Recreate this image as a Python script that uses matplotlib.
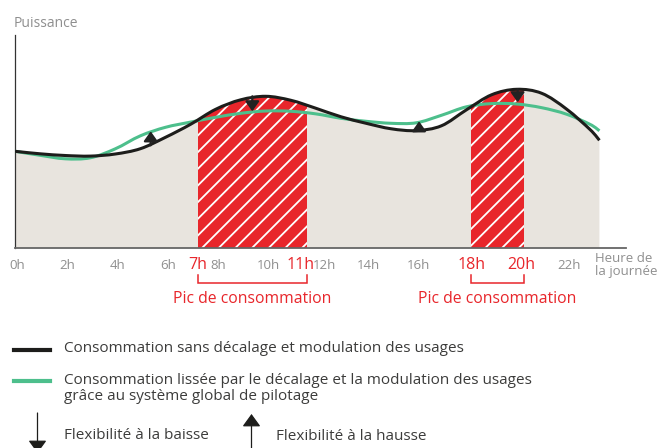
import numpy as np
import matplotlib
matplotlib.use("Agg")
import matplotlib.pyplot as plt
from matplotlib.path import Path
from matplotlib.patches import PathPatch, Rectangle

plt.rcParams['font.family'] = ['Open Sans', 'DejaVu Sans']
plt.rcParams['hatch.linewidth'] = 1.3

# --- data (hour of the day / power, arbitrary units) ---
hours = [0, 1, 2, 3, 4, 5, 6, 7, 8, 9, 10, 11, 12, 13, 14, 15, 16, 17, 18, 19, 20, 21, 22, 23, 23.3]
power_black = [97, 94.5, 92.8, 92.2, 94.3, 99.6, 111, 124, 139, 148.5, 152, 148, 140, 131.5,
               125, 119.5, 117.7, 122.5, 138.5, 153.5, 159, 155, 139, 117, 108]
power_green = [97, 93, 89.5, 90.5, 99.5, 112.5, 121, 126.2, 131, 135, 137.3, 137, 134.4, 130,
               127, 125, 125.5, 133, 141.5, 144.7, 144.3, 140.6, 134, 123, 117.5]

# peak windows (drawn edges) and their labels
peak_start = [7.28, 18.19]
peak_end = [11.63, 20.28]
peak_labels = [('7h', '11h'), ('18h', '20h')]

hour_ticks = [0, 2, 4, 6, 8, 10, 12, 14, 16, 22]
hour_labels = ['0h', '2h', '4h', '6h', '8h', '10h', '12h', '14h', '16h', '22h']

# flexibility arrows: hour, from, to
flex_hours = [5.41, 9.46, 16.11, 20.04]
flex_from = [103, 152, 118, 159]
flex_to = [117, 137, 127, 146]

BLACK = '#1d1d1b'
GREEN = '#4dbf8c'
RED = '#e8262b'
BEIGE = '#e8e4de'
GRAY = '#8f8f8f'
TEXT = '#3c3c3b'


def smooth_verts(x, y):
    """Cubic Hermite curve y(x) through the points, as bezier segments."""
    x = np.asarray(x, float)
    y = np.asarray(y, float)
    n = len(x)
    d = np.empty(n)
    d[1:-1] = (y[2:] - y[:-2]) / (x[2:] - x[:-2])
    d[0] = (y[1] - y[0]) / (x[1] - x[0])
    d[-1] = (y[-1] - y[-2]) / (x[-1] - x[-2])
    verts = [(x[0], y[0])]
    codes = [Path.MOVETO]
    for i in range(n - 1):
        dx = (x[i + 1] - x[i]) / 3
        verts += [(x[i] + dx, y[i] + d[i] * dx),
                  (x[i + 1] - dx, y[i + 1] - d[i + 1] * dx),
                  (x[i + 1], y[i + 1])]
        codes += [Path.CURVE4] * 3
    return verts, codes


fig = plt.figure(figsize=(6.57, 4.48), dpi=100)

# overlay in pixel coordinates for legend
lay = fig.add_axes([0, 0, 1, 1])
lay.set_xlim(0, 657)
lay.set_ylim(448, 0)
lay.axis('off')

ax = fig.add_axes([15 / 657, (448 - 248.3) / 448, (626 - 15) / 657, (248.3 - 35) / 448])
ax.set_xlim(0, 24.36)
ax.set_ylim(0, 213.3)
ax.patch.set_alpha(0)

# area under the black curve
verts, codes = smooth_verts(hours, power_black)
verts += [(hours[-1], 0), (hours[0], 0), (hours[0], 0)]
codes += [Path.LINETO, Path.LINETO, Path.CLOSEPOLY]
area = PathPatch(Path(verts, codes), facecolor=BEIGE, edgecolor='none', zorder=1)
ax.add_patch(area)

for s, e in zip(peak_start, peak_end):
    r = Rectangle((s, 0), e - s, 210, facecolor=RED, edgecolor='white',
                  hatch='//', lw=0, zorder=2)
    ax.add_patch(r)
    r.set_clip_path(area)

# curves
v, c = smooth_verts(hours, power_green)
ax.add_patch(PathPatch(Path(v, c), facecolor='none', edgecolor=GREEN, lw=2.2,
                       capstyle='butt', zorder=3))
v, c = smooth_verts(hours, power_black)
ax.add_patch(PathPatch(Path(v, c), facecolor='none', edgecolor=BLACK, lw=2.2,
                       capstyle='butt', zorder=4))

# flexibility arrows
for h, a, b in zip(flex_hours, flex_from, flex_to):
    ax.annotate('', xy=(h, b), xytext=(h, a),
                arrowprops=dict(arrowstyle='-|>,head_length=0.45,head_width=0.32',
                                color='#222222', lw=1.6, mutation_scale=13,
                                shrinkA=0, shrinkB=0), zorder=5)

# axes
for side in ['top', 'right']:
    ax.spines[side].set_visible(False)
ax.spines['left'].set_color('#333333')
ax.spines['left'].set_linewidth(0.9)
ax.spines['bottom'].set_color('#666666')
ax.spines['bottom'].set_linewidth(1.3)
ax.set_xticks([])
ax.set_yticks([])

ax.text(-0.05, 225.3, 'Puissance', color=GRAY, fontsize=10, ha='left', va='center',
        clip_on=False)

# hour labels
nudge = {12: 0.25}
for h, lab in zip(hour_ticks, hour_labels):
    ax.text(h + 0.09 + nudge.get(h, 0), -17, lab, color=GRAY, fontsize=9.5,
            ha='center', va='center', clip_on=False)
ax.text(23.13, -16.5, 'Heure de\nla journée', color=GRAY, fontsize=9.5,
        ha='left', va='center', linespacing=0.95, clip_on=False)

# peak labels and brackets
for (s, e), (l1, l2) in zip(zip(peak_start, peak_end), peak_labels):
    shift = -0.25 if l2 == '11h' else -0.1
    ax.text(s, -16.5, l1, color=RED, fontsize=11.5, ha='center', va='center', clip_on=False)
    ax.text(e + shift, -16.5, l2, color=RED, fontsize=11.5, ha='center', va='center',
            clip_on=False)
    ax.plot([s, s, e, e], [-26.7, -34.7, -34.7, -26.7], color=RED, lw=1.1,
            clip_on=False, solid_joinstyle='miter')
    ax.text((s + e) / 2, -50.7, 'Pic de consommation', color=RED, fontsize=11.3,
            ha='center', va='center', clip_on=False)

# legend
lay.plot([14, 50], [350, 350], color=BLACK, lw=3)
lay.text(63.5, 348.5, 'Consommation sans décalage et modulation des usages',
         color=TEXT, fontsize=11, ha='left', va='center')
lay.plot([14, 50], [381, 381], color=GREEN, lw=3)
lay.text(63.5, 380.5, 'Consommation lissée par le décalage et la modulation des usages',
         color=TEXT, fontsize=11, ha='left', va='center')
lay.text(63.5, 396.5, 'grâce au système global de pilotage',
         color=TEXT, fontsize=11, ha='left', va='center')

lay.annotate('', xy=(37.5, 453), xytext=(37.5, 413), annotation_clip=False,
             arrowprops=dict(arrowstyle='-|>,head_length=0.55,head_width=0.4',
                             color=BLACK, lw=0.9, mutation_scale=14,
                             shrinkA=0, shrinkB=0))
lay.text(63.5, 435.5, 'Flexibilité à la baisse', color=TEXT, fontsize=11,
         ha='left', va='center')
lay.annotate('', xy=(251.5, 414), xytext=(251.5, 452), annotation_clip=False,
             arrowprops=dict(arrowstyle='-|>,head_length=0.55,head_width=0.4',
                             color=BLACK, lw=0.9, mutation_scale=14,
                             shrinkA=0, shrinkB=0))
lay.text(276, 436.5, 'Flexibilité à la hausse', color=TEXT, fontsize=11,
         ha='left', va='center')

fig.savefig('out.png', dpi=100)
